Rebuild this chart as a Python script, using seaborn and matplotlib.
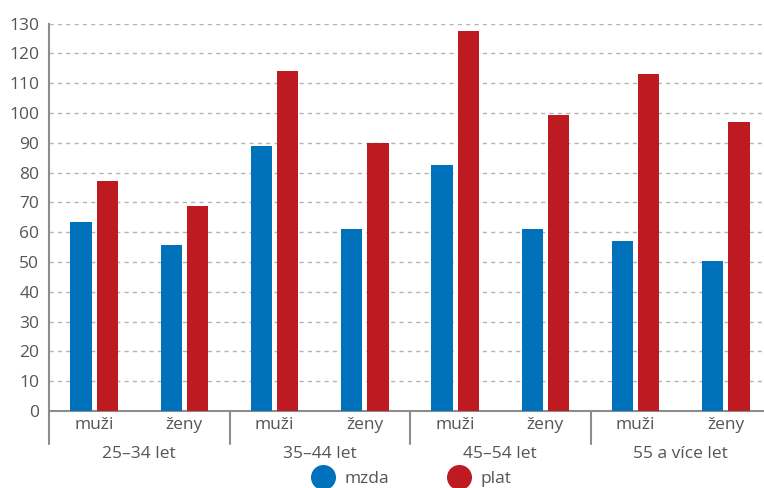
import pandas as pd
import seaborn as sns
import matplotlib.pyplot as plt
from matplotlib.lines import Line2D

# data
skupiny = ["25–34 let", "35–44 let", "45–54 let", "55 a více let"]
pohlavi = ["muži", "ženy"]
mzda = [63.5, 55.7, 89.0, 61.2, 82.5, 61.0, 57.2, 50.2]
plat = [77.2, 68.9, 114.0, 89.9, 127.4, 99.2, 112.9, 97.0]
y_ticks = list(range(0, 131, 10))

BLUE = "#0071bb"
RED = "#be1a21"
TEXT = "#555555"
AXIS = "#8c8c8c"

sns.set_theme(style="white")
plt.rcParams["font.family"] = ["Open Sans", "DejaVu Sans"]

kategorie = [f"{s}|{p}" for s in skupiny for p in pohlavi]
df = pd.DataFrame({
    "kategorie": kategorie * 2,
    "typ": ["mzda"] * len(mzda) + ["plat"] * len(plat),
    "hodnota": mzda + plat,
})

fig = plt.figure(figsize=(7.64, 4.88), dpi=100)
ax = fig.add_axes([49 / 764, 77 / 488, 722 / 764, 387.5 / 488])

sns.barplot(data=df, x="kategorie", y="hodnota", hue="typ", order=kategorie,
            palette={"mzda": BLUE, "plat": RED}, saturation=1, width=0.58,
            gap=0.19, linewidth=0, legend=False, ax=ax, zorder=3)

ax.set_xlim(-0.5, len(kategorie) - 0.5)
ax.set_ylim(0, 130)
ax.set_yticks(y_ticks)
ax.set_yticklabels([str(t) for t in y_ticks], color=TEXT, fontsize=12.5)
ax.set_xticks(range(len(kategorie)))
ax.set_xticklabels([k.split("|")[1] for k in kategorie], color=TEXT, fontsize=12.5)
ax.tick_params(axis="x", length=0, pad=4)
ax.tick_params(axis="y", length=0, pad=7)
ax.set_xlabel("")
ax.set_ylabel("")

# dashed grid
for t in y_ticks[1:]:
    ax.axhline(t, color="#b4b4b4", lw=1, ls=(0, (3, 3)), zorder=1)

for side in ["top", "right"]:
    ax.spines[side].set_visible(False)
for side in ["left", "bottom"]:
    ax.spines[side].set_color(AXIS)
    ax.spines[side].set_linewidth(1.5)

# group labels and separators
trans = ax.get_xaxis_transform()
for i, s in enumerate(skupiny):
    ax.text(2 * i + 0.5, -0.11, s, transform=trans, ha="center", va="center",
            color=TEXT, fontsize=12.5)
    ax.plot([2 * i - 0.5, 2 * i - 0.5], [0, -0.085], transform=trans,
            color=AXIS, lw=1.5, clip_on=False)

handles = [
    Line2D([], [], marker="o", ls="", markersize=17, color=BLUE, label="mzda"),
    Line2D([], [], marker="o", ls="", markersize=17, color=RED, label="plat"),
]
leg = fig.legend(handles=handles, loc="center", bbox_to_anchor=(0.535, 0.018),
                 ncol=2, frameon=False, fontsize=12.5, columnspacing=3.0,
                 handletextpad=0.25, borderaxespad=0)
for t in leg.get_texts():
    t.set_color(TEXT)

fig.savefig("out.png", dpi=100)
